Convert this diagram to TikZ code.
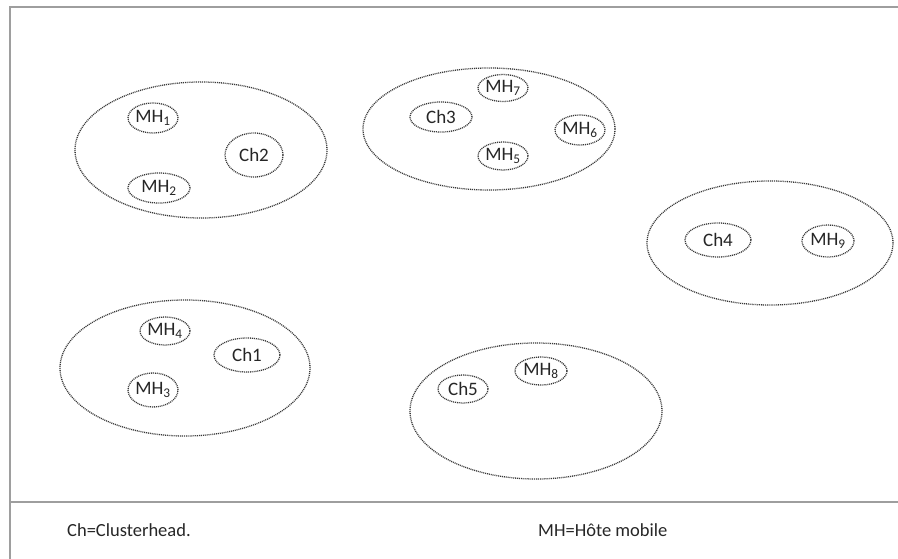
\documentclass[tikz,border=0pt]{standalone}
\usepackage{fontspec}
\setmainfont{Carlito}
\usetikzlibrary{shapes.geometric}
\begin{document}
\begin{tikzpicture}[x=1pt,y=-1pt,
  frameline/.style={draw=black!38,line width=1.6pt},
  zone/.style={ellipse,draw=black!78,line width=1.3pt,dash pattern=on 1pt off 0.9pt,inner sep=0pt},
  hostnode/.style={ellipse,draw=black!78,line width=1.3pt,dash pattern=on 1pt off 0.9pt,inner sep=0pt,
    font=\fontsize{19}{22}\selectfont,text=black!85},
  legendtext/.style={font=\fontsize{18.5}{22}\selectfont,text=black!85,anchor=base west,inner sep=0pt}]
\useasboundingbox (0,0) rectangle (898,559);

% outer frame and legend divider
\coordinate (tl) at (10,7);
\coordinate (tr) at (898,7);
\coordinate (bl) at (10,559);
\coordinate (dl) at (10,502);
\coordinate (dr) at (898,502);
\draw[frameline] (bl) -- (tl) -- (tr);
\draw[frameline] (dl) -- (dr);

% cluster 1 (top left)
\node[zone,minimum width=252pt,minimum height=136pt] (z1) at (201,150) {};
\node[hostnode,minimum width=50pt,minimum height=30pt] (mh1) at (153,118) {MH\textsubscript{1}};
\node[hostnode,minimum width=58pt,minimum height=44pt] (ch2) at (254,155) {Ch2};
\node[hostnode,minimum width=62pt,minimum height=30pt] (mh2) at (159,188) {MH\textsubscript{2}};

% cluster 2 (top middle)
\node[zone,minimum width=252pt,minimum height=122pt] (z2) at (489,129) {};
\node[hostnode,minimum width=50pt,minimum height=27pt] (mh7) at (503,88) {MH\textsubscript{7}};
\node[hostnode,minimum width=62pt,minimum height=30pt] (ch3) at (441,117) {Ch3};
\node[hostnode,minimum width=50pt,minimum height=30pt] (mh6) at (580,130) {MH\textsubscript{6}};
\node[hostnode,minimum width=50pt,minimum height=28pt] (mh5) at (503,156) {MH\textsubscript{5}};

% cluster 3 (right)
\node[zone,minimum width=246pt,minimum height=124pt] (z3) at (770,243) {};
\node[hostnode,minimum width=66pt,minimum height=34pt] (ch4) at (718,240) {Ch4};
\node[hostnode,minimum width=52pt,minimum height=32pt] (mh9) at (828,241) {MH\textsubscript{9}};

% cluster 4 (bottom left)
\node[zone,minimum width=250pt,minimum height=136pt] (z4) at (185,368) {};
\node[hostnode,minimum width=50pt,minimum height=28pt] (mh4) at (165,331) {MH\textsubscript{4}};
\node[hostnode,minimum width=66pt,minimum height=34pt] (ch1) at (247,355) {Ch1};
\node[hostnode,minimum width=50pt,minimum height=34pt] (mh3) at (153,390) {MH\textsubscript{3}};

% cluster 5 (bottom middle)
\node[zone,minimum width=252pt,minimum height=136pt] (z5) at (536,411) {};
\node[hostnode,minimum width=50pt,minimum height=28pt] (ch5) at (463,389) {Ch5};
\node[hostnode,minimum width=52pt,minimum height=28pt] (mh8) at (541,371) {MH\textsubscript{8}};

% legend
\node[legendtext] (lg1) at (67,536) {Ch=Clusterhead.};
\node[legendtext] (lg2) at (538,536) {MH=Hôte mobile};
\end{tikzpicture}
\end{document}
